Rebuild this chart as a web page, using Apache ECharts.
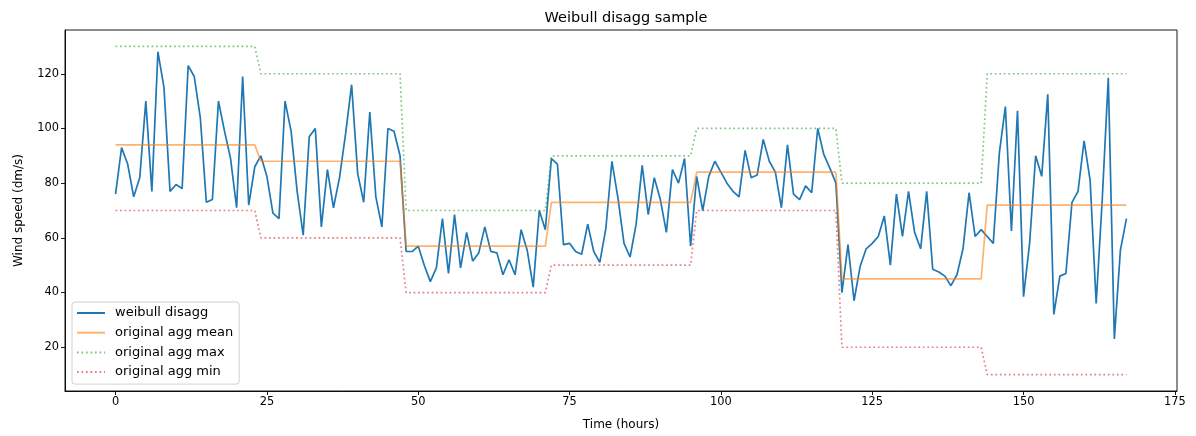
<!DOCTYPE html>
<html>
<head>
<meta charset="utf-8">
<script src="https://cdn.jsdelivr.net/npm/echarts@6/dist/echarts.min.js"></script>
<style>
	html,body{margin:0;padding:0;background:#fff;}
	#chart{width:1196px;height:436px;}
</style>
</head>
<body>
<div id="chart"></div>
<script>
//每小时的风速（dm/s）
var windSpeed = [
	76, 93, 87, 75, 82, 110, 77, 128, 115, 77, 79.5, 78, 123, 119, 104, 73, 74, 110, 99, 89, 71, 119, 72, 86,
	90, 82.5, 69, 67, 110, 99, 77, 61, 97, 100, 64, 85, 71, 82, 98, 116, 83.5, 73, 106, 75, 64, 100, 99, 90,
	55, 55, 57, 50, 44, 49, 67, 47, 68.5, 49, 62, 51.5, 54.5, 64, 55, 54.5, 46.5, 52, 46.5, 63, 55.5, 42, 70, 63,
	89, 87, 57.5, 58, 55, 54, 65, 55, 51, 63.5, 88, 74.5, 58, 53, 65, 86.5, 68.5, 82, 74, 62, 85, 80, 89, 57,
	82.5, 70, 82.5, 88, 84, 80, 77, 75, 92, 82, 83, 96, 88, 84, 71, 94, 76, 74, 79, 76.5, 100, 90.5, 85.5, 80,
	40, 57.5, 37, 49.5, 56, 58, 60.5, 68, 50, 76, 60.5, 77, 62, 56, 77, 48.5, 47.5, 46, 42.5, 46.5, 56, 76.5, 60.5, 63,
	60.5, 58, 91, 108, 62.5, 106.5, 38.5, 58, 90, 82.5, 112.5, 32, 46, 47, 73, 77, 95.5, 81, 36, 74, 118.5, 23, 55.5, 67
];
//每天的原始聚合值
var dailyMean = [94, 88, 57, 73, 84, 45, 72];
var dailyMax = [130, 120, 70, 90, 100, 80, 120];
var dailyMin = [70, 60, 40, 50, 70, 20, 10];
var xTicks = [0, 25, 50, 75, 100, 125, 150, 175];
var yTicks = [20, 40, 60, 80, 100, 120];

var font = 'DejaVu Sans';

function hourly(values){
	return values.map(function(v, i){ return [i, v]; });
}
//每天两个端点：第一小时和最后一小时
function daily(values){
	var out = [];
	values.forEach(function(v, d){
		out.push([d * 24, v]);
		out.push([d * 24 + 23, v]);
	});
	return out;
}
function lineSeries(name, data, color, width, type, opacity){
	return {
		name: name,
		type: 'line',
		data: data,
		symbol: 'none',
		silent: true,
		animation: false,
		lineStyle: {color: color, width: width, type: type, opacity: opacity},
		itemStyle: {color: color, opacity: opacity}
	};
}

var axisBase = {
	type: 'value',
	nameLocation: 'middle',
	nameTextStyle: {fontFamily: font, fontSize: 12, color: '#000'},
	axisLine: {show: true, onZero: false, lineStyle: {color: '#000', width: 0.9}},
	splitLine: {show: false}
};
function axis(extra, ticks){
	var a = Object.assign({}, axisBase, extra);
	a.axisTick = {show: true, inside: false, length: 4, customValues: ticks, lineStyle: {color: '#000', width: 0.9}};
	a.axisLabel = {fontFamily: font, fontSize: 11.4, color: '#000', margin: 6, customValues: ticks};
	return a;
}

var myChart = echarts.init(document.getElementById('chart'), null, {renderer: 'canvas'});
myChart.setOption({
	animation: false,
	title: {
		text: 'Weibull disagg sample',
		left: 621, top: 6, textAlign: 'center',
		textStyle: {fontFamily: font, fontSize: 14.5, fontWeight: 'normal', color: '#000'}
	},
	grid: {
		left: 65, right: 19, top: 30, bottom: 44,
		show: true, borderColor: '#000', borderWidth: 0.9, backgroundColor: '#fff'
	},
	legend: {
		orient: 'vertical',
		left: 72, top: 302,
		padding: [4, 6, 5, 4],
		itemWidth: 28, itemHeight: 10, itemGap: 5.7,
		borderColor: '#d0d0d0', borderWidth: 1, borderRadius: 3,
		backgroundColor: 'rgba(255,255,255,0.8)',
		itemStyle: {opacity: 0},
		textStyle: {fontFamily: font, fontSize: 13, color: '#000', lineHeight: 14, padding: [0, 0, 0, 5]},
		data: ['weibull disagg', 'original agg mean', 'original agg max', 'original agg min']
	},
	xAxis: axis({min: -8.35, max: 175.35, name: 'Time (hours)', nameGap: 28}, xTicks),
	yAxis: axis({min: 4, max: 136, name: 'Wind speed (dm/s)', nameGap: 40, nameRotate: 90}, yTicks),
	series: [
		lineSeries('weibull disagg', hourly(windSpeed), '#1f77b4', 1.7, 'solid', 1),
		lineSeries('original agg mean', daily(dailyMean), '#ff7f0e', 1.7, 'solid', 0.6),
		lineSeries('original agg max', daily(dailyMax), '#2ca02c', 1.7, [1.7, 2.8], 0.6),
		lineSeries('original agg min', daily(dailyMin), '#d62728', 1.7, [1.7, 2.8], 0.6)
	]
});
</script>
</body>
</html>
